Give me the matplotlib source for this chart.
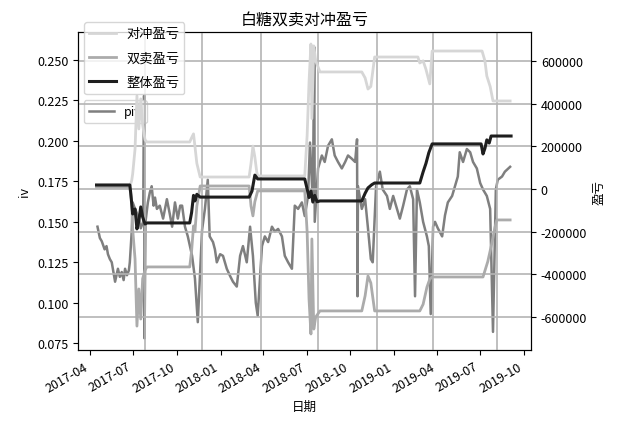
import pandas as pd
import matplotlib
matplotlib.use('Agg')
import matplotlib.pyplot as plt
import matplotlib.dates as mdates

plt.rcParams['font.family'] = ['Noto Sans CJK SC', 'DejaVu Sans']
plt.rcParams['axes.unicode_minus'] = False

# implied vol (left axis)
piv_dates = [
    '2017-04-17', '2017-04-22', '2017-04-26', '2017-05-02', '2017-05-06', '2017-05-09',
    '2017-05-13', '2017-05-17', '2017-05-21', '2017-05-24', '2017-05-27', '2017-05-30',
    '2017-06-03', '2017-06-07', '2017-06-11', '2017-06-14', '2017-06-18', '2017-06-22',
    '2017-06-24', '2017-06-28', '2017-06-30', '2017-07-05', '2017-07-11', '2017-07-17',
    '2017-07-22', '2017-07-24', '2017-07-25', '2017-07-27', '2017-08-01', '2017-08-05',
    '2017-08-09', '2017-08-13', '2017-08-16', '2017-08-20', '2017-08-26', '2017-09-02',
    '2017-09-06', '2017-09-10', '2017-09-16', '2017-09-21', '2017-09-27', '2017-10-03',
    '2017-10-08', '2017-10-12', '2017-10-18', '2017-10-24', '2017-11-02', '2017-11-08',
    '2017-11-14', '2017-11-23', '2017-11-29', '2017-12-05', '2017-12-09', '2017-12-16',
    '2017-12-20', '2017-12-24', '2017-12-31', '2018-01-06', '2018-01-14', '2018-01-21',
    '2018-01-27', '2018-02-04', '2018-02-11', '2018-02-17', '2018-02-25', '2018-03-04',
    '2018-03-10', '2018-03-16', '2018-03-20', '2018-03-29', '2018-04-04', '2018-04-11',
    '2018-04-19', '2018-04-25', '2018-05-02', '2018-05-10', '2018-05-16', '2018-05-23',
    '2018-05-31', '2018-06-06', '2018-06-13', '2018-06-21', '2018-06-27', '2018-07-04',
    '2018-07-08', '2018-07-14', '2018-07-17', '2018-07-18', '2018-07-25', '2018-08-02',
    '2018-08-08', '2018-08-15', '2018-08-23', '2018-08-29', '2018-09-05', '2018-09-13',
    '2018-09-20', '2018-09-26', '2018-10-04', '2018-10-11', '2018-10-15', '2018-10-16',
    '2018-10-17', '2018-10-25', '2018-11-01', '2018-11-07', '2018-11-13', '2018-11-17',
    '2018-11-24', '2018-12-02', '2018-12-08', '2018-12-17', '2018-12-23', '2018-12-30',
    '2019-01-07', '2019-01-13', '2019-01-20', '2019-01-28', '2019-02-03', '2019-02-10',
    '2019-02-14', '2019-02-18', '2019-02-24', '2019-03-03', '2019-03-11', '2019-03-15',
    '2019-03-19', '2019-03-24', '2019-03-28', '2019-04-03', '2019-04-12', '2019-04-18',
    '2019-04-24', '2019-05-03', '2019-05-09', '2019-05-15', '2019-05-19', '2019-05-26',
    '2019-06-03', '2019-06-10', '2019-06-16', '2019-06-24', '2019-07-01', '2019-07-07',
    '2019-07-15', '2019-07-22', '2019-07-28', '2019-08-03', '2019-08-07', '2019-08-16',
    '2019-08-22', '2019-09-02']
piv_values = [
    0.147, 0.140, 0.138, 0.133, 0.135, 0.130,
    0.127, 0.125, 0.118, 0.113, 0.117, 0.121,
    0.116, 0.119, 0.114, 0.121, 0.117, 0.120,
    0.125, 0.144, 0.162, 0.158, 0.154, 0.146,
    0.150, 0.228, 0.078, 0.150, 0.162, 0.168,
    0.172, 0.160, 0.165, 0.158, 0.160, 0.152,
    0.158, 0.164, 0.155, 0.147, 0.162, 0.152,
    0.160, 0.160, 0.147, 0.141, 0.129, 0.115,
    0.088, 0.145, 0.158, 0.176, 0.141, 0.1375,
    0.133, 0.125, 0.130, 0.129, 0.121, 0.1165,
    0.113, 0.110, 0.129, 0.135, 0.125, 0.147,
    0.129, 0.100, 0.092, 0.135, 0.141, 0.1375,
    0.147, 0.144, 0.1456, 0.141, 0.129, 0.125,
    0.121, 0.160, 0.158, 0.162, 0.1536, 0.166,
    0.199, 0.162, 0.258, 0.150, 0.183, 0.191,
    0.187, 0.197, 0.201, 0.191, 0.187, 0.183,
    0.187, 0.191, 0.189, 0.187, 0.201, 0.104,
    0.172, 0.158, 0.164, 0.146, 0.127, 0.125,
    0.172, 0.181, 0.170, 0.166, 0.158, 0.166,
    0.158, 0.152, 0.160, 0.170, 0.172, 0.164,
    0.104, 0.170, 0.162, 0.150, 0.141, 0.135,
    0.093, 0.147, 0.150, 0.146, 0.141, 0.154,
    0.162, 0.166, 0.172, 0.178, 0.193, 0.187,
    0.195, 0.193, 0.187, 0.183, 0.174, 0.170,
    0.166, 0.158, 0.082, 0.170, 0.176, 0.178,
    0.181, 0.184]

# hedge pnl (对冲盈亏)
hedge_dates = [
    '2017-04-15', '2017-06-24', '2017-06-28', '2017-06-30', '2017-07-05', '2017-07-09',
    '2017-07-13', '2017-07-17', '2017-07-21', '2017-07-26', '2017-07-30', '2017-10-28',
    '2017-11-01', '2017-11-05', '2017-11-08', '2017-11-12', '2017-11-19', '2018-03-02',
    '2018-03-06', '2018-03-10', '2018-03-14', '2018-03-18', '2018-03-20', '2018-06-27',
    '2018-07-02', '2018-07-06', '2018-07-10', '2018-07-12', '2018-07-16', '2018-07-20',
    '2018-07-29', '2018-10-25', '2018-11-01', '2018-11-07', '2018-11-13', '2018-11-21',
    '2019-02-20', '2019-02-24', '2019-03-03', '2019-03-09', '2019-03-17', '2019-03-22',
    '2019-07-05', '2019-07-11', '2019-07-15', '2019-07-22', '2019-07-28', '2019-09-02']
hedge_pnl = [
    10000, 10000, 40000, 70000, 187000, 436000,
    281000, 422000, 300000, 230000, 220000, 220000,
    240000, 258000, 200000, 120000, 56000, 56000,
    120000, 201000, 150000, 80000, 61000, 61000,
    250000, 500000, 679000, 330000, 670000, 600000,
    548000, 548000, 520000, 468000, 480000, 618000,
    618000, 590000, 600000, 560000, 492000, 646000,
    646000, 600000, 529000, 480000, 412000, 412000]

# short straddle pnl (双卖盈亏)
straddle_dates = [
    '2017-04-15', '2017-06-24', '2017-06-28', '2017-06-30', '2017-07-05', '2017-07-09',
    '2017-07-13', '2017-07-17', '2017-07-21', '2017-07-26', '2017-07-30', '2017-10-28',
    '2017-11-01', '2017-11-05', '2017-11-08', '2017-11-12', '2017-11-19', '2018-03-02',
    '2018-03-06', '2018-03-10', '2018-03-14', '2018-03-20', '2018-06-27', '2018-07-02',
    '2018-07-06', '2018-07-10', '2018-07-12', '2018-07-16', '2018-07-20', '2018-07-29',
    '2018-10-25', '2018-11-01', '2018-11-07', '2018-11-13', '2018-11-21', '2019-02-24',
    '2019-03-03', '2019-03-11', '2019-03-17', '2019-03-22', '2019-07-07', '2019-07-17',
    '2019-07-26', '2019-08-01', '2019-08-05', '2019-09-02']
straddle_pnl = [
    8700, 8700, -60000, -187000, -328000, -642000,
    -468000, -609000, -420000, -380000, -365000, -365000,
    -290000, -173000, -200000, -80000, 14000, 14000,
    -80000, -126000, -60000, -9000, -9000, -200000,
    -515000, -679000, -234000, -656000, -600000, -571000,
    -571000, -500000, -407000, -440000, -571000, -571000,
    -540000, -460000, -422000, -412000, -412000, -340000,
    -250000, -180000, -145000, -145000]

# total pnl (整体盈亏)
total_dates = [
    '2017-04-15', '2017-06-24', '2017-06-26', '2017-06-30', '2017-07-05', '2017-07-09',
    '2017-07-13', '2017-07-17', '2017-07-21', '2017-07-26', '2017-07-30', '2017-10-28',
    '2017-11-01', '2017-11-05', '2017-11-08', '2017-11-12', '2017-11-19', '2018-03-02',
    '2018-03-08', '2018-03-14', '2018-03-20', '2018-06-27', '2018-07-02', '2018-07-06',
    '2018-07-10', '2018-07-14', '2018-07-18', '2018-07-23', '2018-07-29', '2018-10-25',
    '2018-11-01', '2018-11-07', '2018-11-15', '2018-11-21', '2019-02-24', '2019-03-03',
    '2019-03-09', '2019-03-15', '2019-03-22', '2019-07-03', '2019-07-07', '2019-07-11',
    '2019-07-15', '2019-07-20', '2019-07-24', '2019-09-04']
total_pnl = [
    18700, 18700, -20000, -117000, -94000, -187000,
    -150000, -84000, -131000, -164000, -159000, -159000,
    -110000, -30000, -56000, -25000, -38000, -38000,
    -10000, 65000, 47000, 47000, 0, -40000,
    -10000, -60000, -30000, -60000, -56000, -56000,
    -20000, 5000, 20000, 28000, 28000, 80000,
    120000, 170000, 211000, 211000, 164000, 190000,
    230000, 215000, 248000, 248000]

# roll dates marked with vertical lines
roll_dates = ['2017-07-26', '2017-11-23', '2018-03-27', '2018-07-25',
              '2018-11-26', '2019-03-24', '2019-08-05']

fig = plt.figure(figsize=(6.2, 4.31), dpi=100)
ax = fig.add_axes([0.1258, 0.1856, 0.7307, 0.7378])

ax.plot(pd.to_datetime(piv_dates), piv_values, color='#7f7f7f', lw=1.8, label='piv')
ax.set_ylim(0.0708, 0.2673)
ax.set_xlim(pd.Timestamp('2017-03-07'), pd.Timestamp('2019-10-16'))
ax.set_ylabel('iv', fontsize=9)
ax.set_xlabel('日期', fontsize=9)
ax.xaxis.set_major_locator(mdates.MonthLocator(bymonth=[1, 4, 7, 10]))
ax.xaxis.set_major_formatter(mdates.DateFormatter('%Y-%m'))
ax.tick_params(labelsize=9)
for lbl in ax.get_xticklabels():
    lbl.set_rotation(30)
    lbl.set_ha('right')
ax.legend(loc='upper left', bbox_to_anchor=(0.013, 0.786), borderaxespad=0, fontsize=9)

ax2 = ax.twinx()
for d in roll_dates:
    ax2.axvline(pd.Timestamp(d), color='#b4b4b4', lw=1.2, zorder=0)
ax2.yaxis.grid(True, color='#b4b4b4', lw=1.2)
ax2.plot(pd.to_datetime(hedge_dates), hedge_pnl, color='#d6d6d6', lw=2, label='对冲盈亏')
ax2.plot(pd.to_datetime(straddle_dates), straddle_pnl, color='#ababab', lw=2, label='双卖盈亏')
ax2.plot(pd.to_datetime(total_dates), total_pnl, color='#1e1e1e', lw=2.2, label='整体盈亏')
ax2.set_ylim(-754000, 735000)
ax2.set_yticks([-600000, -400000, -200000, 0, 200000, 400000, 600000])
ax2.set_ylabel('盈亏', fontsize=9)
ax2.tick_params(labelsize=9)
ax2.legend(loc='upper left', bbox_to_anchor=(0.013, 1.031), borderaxespad=0,
           fontsize=9.5, labelspacing=0.85)

ax.set_title('白糖双卖对冲盈亏', fontsize=11.5)

fig.savefig('out.png', dpi=100)
